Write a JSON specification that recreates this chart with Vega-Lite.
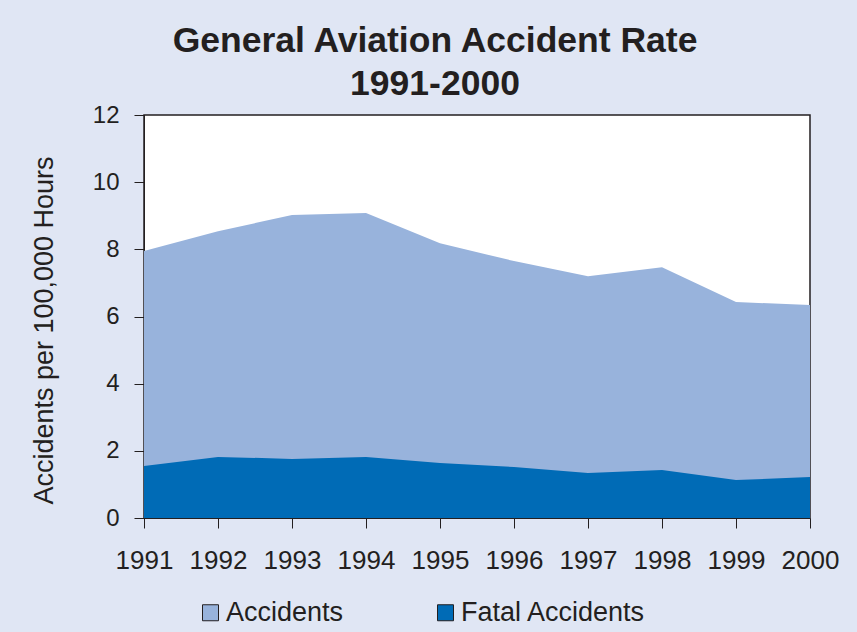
{
  "$schema": "https://vega.github.io/schema/vega-lite/v6.json",
  "autosize": {"type": "none"},
  "width": 666,
  "height": 403,
  "padding": {"left": 144, "top": 115, "right": 47, "bottom": 114},
  "background": "#E0E6F4",
  "title": {
    "text": ["General Aviation Accident Rate", "1991-2000"],
    "font": "Liberation Sans",
    "fontSize": 35.5,
    "fontWeight": "bold",
    "color": "#231F20",
    "lineHeight": 43,
    "anchor": "middle",
    "frame": "group",
    "dx": -42,
    "offset": 1
  },
  "data": {
    "values": [
      {"year": "1991", "series": "Accidents", "rate": 7.95},
      {"year": "1992", "series": "Accidents", "rate": 8.54},
      {"year": "1993", "series": "Accidents", "rate": 9.02},
      {"year": "1994", "series": "Accidents", "rate": 9.08},
      {"year": "1995", "series": "Accidents", "rate": 8.18},
      {"year": "1996", "series": "Accidents", "rate": 7.65},
      {"year": "1997", "series": "Accidents", "rate": 7.2},
      {"year": "1998", "series": "Accidents", "rate": 7.47},
      {"year": "1999", "series": "Accidents", "rate": 6.43},
      {"year": "2000", "series": "Accidents", "rate": 6.34},
      {"year": "1991", "series": "Fatal Accidents", "rate": 1.55},
      {"year": "1992", "series": "Fatal Accidents", "rate": 1.82},
      {"year": "1993", "series": "Fatal Accidents", "rate": 1.76},
      {"year": "1994", "series": "Fatal Accidents", "rate": 1.82},
      {"year": "1995", "series": "Fatal Accidents", "rate": 1.64},
      {"year": "1996", "series": "Fatal Accidents", "rate": 1.52},
      {"year": "1997", "series": "Fatal Accidents", "rate": 1.34},
      {"year": "1998", "series": "Fatal Accidents", "rate": 1.43},
      {"year": "1999", "series": "Fatal Accidents", "rate": 1.13},
      {"year": "2000", "series": "Fatal Accidents", "rate": 1.22}
    ]
  },
  "mark": {"type": "area", "opacity": 1},
  "encoding": {
    "x": {
      "field": "year",
      "type": "ordinal",
      "scale": {"type": "point", "padding": 0},
      "axis": {
        "title": null,
        "labelAngle": 0,
        "labelFont": "Liberation Sans",
        "labelFontSize": 26,
        "labelColor": "#231F20",
        "labelPadding": 19,
        "tickSize": 10,
        "tickColor": "#231F20",
        "domainColor": "#231F20",
        "grid": false
      }
    },
    "y": {
      "field": "rate",
      "type": "quantitative",
      "stack": null,
      "scale": {"domain": [0, 12], "nice": false},
      "axis": {
        "title": "Accidents per 100,000 Hours",
        "titleFont": "Liberation Sans",
        "titleFontSize": 27,
        "titleFontWeight": "normal",
        "titleColor": "#231F20",
        "titlePadding": 34,
        "titleY": 215,
        "values": [0, 2, 4, 6, 8, 10, 12],
        "labelFont": "Liberation Sans",
        "labelFontSize": 24,
        "labelColor": "#231F20",
        "labelPadding": 15,
        "tickSize": 10,
        "tickColor": "#231F20",
        "domainColor": "#231F20",
        "grid": false
      }
    },
    "color": {
      "field": "series",
      "type": "nominal",
      "scale": {"domain": ["Accidents", "Fatal Accidents"], "range": ["#98B3DC", "#006BB6"]},
      "legend": {
        "title": null,
        "orient": "none",
        "direction": "horizontal",
        "legendX": 53,
        "legendY": 484,
        "symbolType": "square",
        "symbolSize": 256,
        "symbolStrokeColor": "#231F20",
        "symbolStrokeWidth": 1,
        "symbolOpacity": 1,
        "labelFont": "Liberation Sans",
        "labelFontSize": 27,
        "labelColor": "#231F20",
        "labelOffset": 2,
        "labelLimit": 400,
        "columnPadding": 88
      }
    }
  },
  "config": {
    "view": {"stroke": "#231F20", "strokeWidth": 1.5, "fill": "white"}
  }
}
